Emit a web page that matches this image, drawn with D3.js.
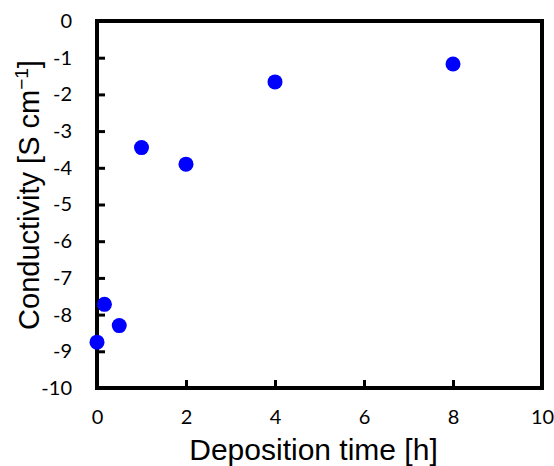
<!DOCTYPE html>
<html>
<head>
<meta charset="utf-8">
<script src="https://cdn.jsdelivr.net/npm/d3@7"></script>
<style>
  body { margin: 0; background: #fff; }
  .tick text { font-family: Lato, "Open Sans", sans-serif; font-size: 20px; fill: #000; }
  .title { font-family: "Liberation Sans", Arial, sans-serif; font-size: 29px; fill: #000; }
</style>
</head>
<body>
<div class="canvas"></div>
<script>
const hours = [0, 0.167, 0.5, 1, 2, 4, 8];
const logConductivity = [-8.75, -7.72, -8.3, -3.45, -3.9, -1.66, -1.17];
const xTicks = [0, 2, 4, 6, 8, 10];
const yTicks = [0, -1, -2, -3, -4, -5, -6, -7, -8, -9, -10];

const W = 554, H = 466;
const margin = { top: 21, right: 12, bottom: 78, left: 97 };
const width = W - margin.left - margin.right;
const height = H - margin.top - margin.bottom;

const svg = d3.select(".canvas").append("svg").attr("width", W).attr("height", H);
const chart = svg.append("g").attr("transform", `translate(${margin.left}, ${margin.top})`);

const x = d3.scaleLinear().domain([0, 10]).range([0, width]);
const y = d3.scaleLinear().domain([-10, 0]).range([height, 0]);

const xAxis = d3.axisBottom(x).tickValues(xTicks).tickSizeInner(-8).tickSizeOuter(0).tickPadding(22);
const yAxis = d3.axisLeft(y).tickValues(yTicks).tickSizeInner(-8).tickSizeOuter(0).tickPadding(25)
  .tickFormat((d) => String(d));

const gx = chart.append("g").attr("transform", `translate(0, ${height})`).call(xAxis);
const gy = chart.append("g").call(yAxis);
[gx, gy].forEach((g) => {
  g.select(".domain").remove();
  g.selectAll(".tick line").attr("stroke", "#000").attr("stroke-width", 3);
});
gx.selectAll(".tick text").attr("dy", "0.7em");

chart.append("rect")
  .attr("width", width).attr("height", height)
  .attr("fill", "none").attr("stroke", "#000").attr("stroke-width", 4);

chart.selectAll("circle")
  .data(hours)
  .enter()
  .append("circle")
  .attr("cx", (d) => x(d))
  .attr("cy", (d, i) => y(logConductivity[i]))
  .attr("r", 7.5)
  .attr("fill", "#0000ff");

svg.append("text").attr("class", "title")
  .attr("x", margin.left + width / 2 - 6).attr("y", 460)
  .attr("text-anchor", "middle")
  .attr("font-size", "30px")
  .style("font-size", "30px")
  .text("Deposition time [h]");

const yt = svg.append("text").attr("class", "title")
  .attr("transform", `translate(39, 195) rotate(-90)`)
  .attr("text-anchor", "middle");
yt.append("tspan").text("Conductivity [S cm");
yt.append("tspan").attr("font-size", "19px").attr("dy", "-11").text("\u22121");
yt.append("tspan").attr("dy", "11").text("]");
</script>
</body>
</html>
